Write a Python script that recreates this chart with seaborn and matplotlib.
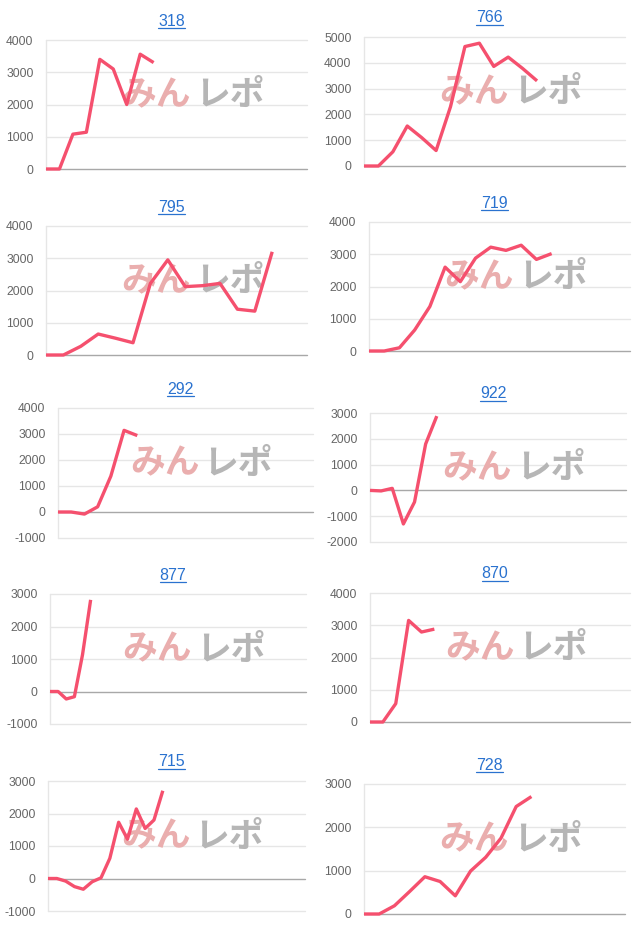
import numpy as np
import pandas as pd
import matplotlib
matplotlib.use("Agg")
import matplotlib.pyplot as plt
from matplotlib.lines import Line2D
import seaborn as sns

sns.set_theme(style="white")
plt.rcParams["font.family"] = ["Liberation Sans", "DejaVu Sans"]

# ---------------- data ----------------
titles = ["318", "766", "795", "719", "292", "922", "877", "870", "715", "728"]

v318 = [0, 0, 1080, 1140, 3400, 3100, 2000, 3560, 3300]
v766 = [0, 0, 550, 1550, 1100, 600, 2300, 4630, 4760, 3860, 4220, 3780, 3300]
v795 = [0, 0, 270, 650, 520, 380, 2220, 2950, 2120, 2150, 2220, 1420, 1360, 3200]
v719 = [0, 0, 100, 650, 1380, 2600, 2150, 2880, 3220, 3120, 3280, 2840, 3020]
v292 = [0, 0, -80, 200, 1380, 3140, 2940]
v922 = [0, -20, 80, -1300, -450, 1800, 2880]
v877 = [0, 0, -230, -160, 1130, 2820]
v870 = [0, 0, 570, 3150, 2790, 2880]
v715 = [0, 0, -80, -250, -330, -100, 20, 620, 1730, 1210, 2140, 1540, 1800, 2700]
v728 = [0, 0, 190, 520, 860, 750, 420, 990, 1310, 1750, 2480, 2710]
series = [v318, v766, v795, v719, v292, v922, v877, v870, v715, v728]

yt318 = [0, 1000, 2000, 3000, 4000]
yt766 = [0, 1000, 2000, 3000, 4000, 5000]
yt795 = [0, 1000, 2000, 3000, 4000]
yt719 = [0, 1000, 2000, 3000, 4000]
yt292 = [-1000, 0, 1000, 2000, 3000, 4000]
yt922 = [-2000, -1000, 0, 1000, 2000, 3000]
yt877 = [-1000, 0, 1000, 2000, 3000]
yt870 = [0, 1000, 2000, 3000, 4000]
yt715 = [-1000, 0, 1000, 2000, 3000]
yt728 = [0, 1000, 2000, 3000]
yticks = [yt318, yt766, yt795, yt719, yt292, yt922, yt877, yt870, yt715, yt728]

# ---------------- layout ----------------
W, H = 640, 931
# plot boxes in pixels: left, top, right, bottom
boxes = [
    (46, 40, 307, 169), (364, 37, 625, 166),
    (46, 226, 307, 355), (369, 222, 630, 351),
    (58, 408, 313, 538), (370, 413, 626, 542),
    (50, 594, 306, 724), (370, 593, 630, 722),
    (48, 781, 305, 911), (364, 784, 625, 914),
]
x_spans = [19.4, 18.1, 15.0, 17.15, 19.3, 23.0, 31.5, 20.2, 29.1, 17.15]

LINE = "#f5506e"
BLUE = "#2a72cf"
GRID = "#e6e6e6"
BASE = "#a8a8a8"
TICK = "#666666"

fig = plt.figure(figsize=(W / 100, H / 100), dpi=100)
fig.patch.set_facecolor("white")

title_texts = []
for i, (vals, yt, (l, t, r, b), span, ttl) in enumerate(
        zip(series, yticks, boxes, x_spans, titles)):
    ax = fig.add_axes([l / W, 1 - b / H, (r - l) / W, (b - t) / H])
    ax.set_facecolor("none")
    df = pd.DataFrame({"x": np.arange(len(vals)), "y": vals})
    for y in yt:
        ax.axhline(y, color=BASE if y == 0 else GRID,
                   lw=1.0, zorder=1, clip_on=False)
    ax.axvline(0, color=GRID, lw=1.0, zorder=1, clip_on=False)
    sns.lineplot(data=df, x="x", y="y", ax=ax, color=LINE, lw=2.4,
                 solid_joinstyle="round", solid_capstyle="butt",
                 zorder=4, clip_on=False)
    ax.set_xlim(0, span)
    ax.set_ylim(yt[0], yt[-1])
    ax.set_yticks(yt)
    ax.set_yticklabels([str(v) for v in yt])
    ax.set_xticks([])
    ax.set_xlabel("")
    ax.set_ylabel("")
    for s in ax.spines.values():
        s.set_visible(False)
    ax.tick_params(axis="y", length=0, pad=9, labelsize=8.7, labelcolor=TICK)

    # watermark
    ax.text(0.555, 0.575, "みん", transform=ax.transAxes, ha="right",
            va="center", fontsize=25, fontweight="bold", color="#eaaeae",
            family=["Noto Sans CJK JP", "DejaVu Sans"], zorder=2)
    ax.text(0.57, 0.575, "レポ", transform=ax.transAxes, ha="left",
            va="center", fontsize=25, fontweight="bold", color="#b6b6b6",
            family=["Noto Sans CJK JP", "DejaVu Sans"], zorder=2)

    cx = (l + r) / 2 - 5
    ty = t - 19
    tt = fig.text(cx / W, 1 - ty / H, ttl, ha="center", va="center",
                  color=BLUE, fontsize=11.5)
    title_texts.append(tt)

fig.canvas.draw()
renderer = fig.canvas.get_renderer()
for tt in title_texts:
    bb = tt.get_window_extent(renderer)
    y = bb.y0 + 0.5
    fig.add_artist(Line2D([bb.x0 / W, bb.x1 / W], [y / H, y / H],
                          transform=fig.transFigure, color=BLUE, lw=0.9))

fig.savefig("out.png", dpi=100, facecolor="white")
